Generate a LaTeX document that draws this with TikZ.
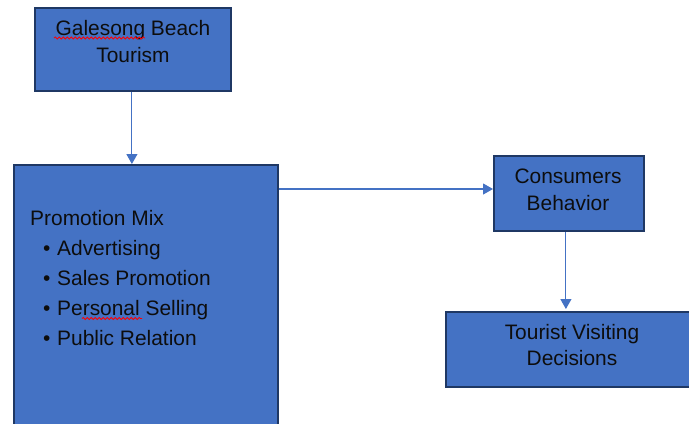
\documentclass[tikz,border=0pt]{standalone}
\usepackage{fontspec}
\setmainfont{Liberation Sans}
\usetikzlibrary{arrows.meta,decorations.pathmorphing}
\definecolor{boxfill}{HTML}{4472C4}
\definecolor{boxline}{HTML}{1F3864}
\definecolor{arrowcol}{HTML}{4472C4}
\definecolor{txtcol}{HTML}{0D0D0D}
\begin{document}
\begin{tikzpicture}[x=1bp,y=-1bp,
  box/.style={rectangle, draw=boxline, fill=boxfill, line width=1.8bp, inner sep=0pt, anchor=north west},
  txt/.style={inner sep=0pt, text=txtcol, font=\fontsize{21}{27}\selectfont},
  arr/.style={draw=arrowcol, line width=1.1bp, -{Triangle[length=10bp,width=11bp]}},
  squig/.style={draw=red, line width=0.8bp, decorate, decoration={snake, segment length=4bp, amplitude=1.1bp}}]
\useasboundingbox (0,0) rectangle (689,423);
\clip (0,0) rectangle (689,423);
% boxes
\node[box, minimum width=196bp, minimum height=83bp] (gal) at (34,7) {};
\node[box, minimum width=264bp, minimum height=280bp] (promo) at (13,164) {};
\node[box, minimum width=150bp, minimum height=75bp] (cons) at (493,155) {};
\node[box, minimum width=260bp, minimum height=75bp] (tour) at (445,311) {};
% texts
\node[txt, anchor=base] (g1) at (133,35.5) {Galesong Beach};
\node[txt, anchor=base] (g2) at (133,62.5) {Tourism};
\node[txt, anchor=base west] (pm) at (30,225.5) {Promotion Mix};
\node[txt, anchor=base west] (l1) at (43,255.5) {\makebox[14bp][l]{\textbullet}Advertising};
\node[txt, anchor=base west] (l2) at (43,285.5) {\makebox[14bp][l]{\textbullet}Sales Promotion};
\node[txt, anchor=base west] (l3) at (43,315.5) {\makebox[14bp][l]{\textbullet}Personal Selling};
\node[txt, anchor=base west] (l4) at (43,345.5) {\makebox[14bp][l]{\textbullet}Public Relation};
\node[txt, anchor=base] (c1) at (568,183.5) {Consumers};
\node[txt, anchor=base] (c2) at (568,210.5) {Behavior};
\node[txt, anchor=base] (t1) at (572,339.5) {Tourist Visiting};
\node[txt, anchor=base] (t2) at (572,365.5) {Decisions};
% spell-check squiggles
\coordinate (sq1a) at (54,38);
\coordinate (sq1b) at (145,38);
\coordinate (sq2a) at (82,318.5);
\coordinate (sq2b) at (142,318.5);
\draw[squig] (sq1a) -- (sq1b);
\draw[squig] (sq2a) -- (sq2b);
% connectors
\coordinate (gs) at ([xshift=-1bp]gal.south);
\draw[arr] (gs) -- (gs |- promo.north);
\coordinate (pe) at ([yshift=-25bp]promo.north east);
\draw[arr] (pe) -- (pe -| cons.west);
\coordinate (cs) at ([xshift=-3bp]cons.south);
\draw[arr] (cs) -- ([yshift=2bp]cs |- tour.north);
\end{tikzpicture}
\end{document}
